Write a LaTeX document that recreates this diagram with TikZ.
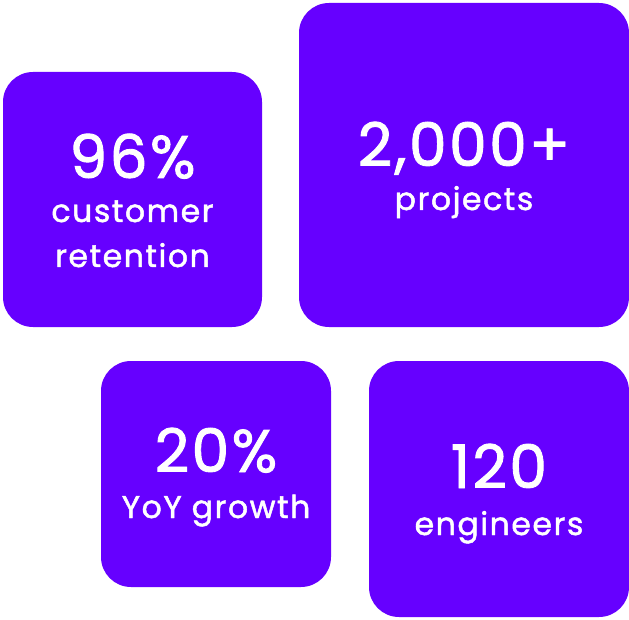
\documentclass[tikz,border=0pt]{standalone}
\usepackage{fontspec}
\setmainfont{Poppins}[FakeBold=1.5]
\definecolor{vio}{HTML}{6600FF}
\begin{document}
\begin{tikzpicture}[x=1pt,y=-1pt,
  card/.style={fill=vio, rounded corners=30pt},
  big/.style={anchor=base, text=white, inner sep=0pt, font=\fontsize{60}{60}\selectfont\addfontfeatures{LetterSpace=4}},
  small/.style={anchor=base, text=white, inner sep=0pt, font=\fontsize{31.5}{32}\selectfont\addfontfeatures{LetterSpace=5}}]
\useasboundingbox (0,0) rectangle (629,620);
\fill[card] (3,72) rectangle (262,327);
\fill[card] (299,3) rectangle (629,327);
\fill[card] (101,361) rectangle (331,587);
\fill[card] (369,361) rectangle (629,617);
\node[big] (a1) at (132.5,178) {96\%};
\node[small] (a2) at (132.5,222) {customer};
\node[small] (a3) at (132.5,267) {retention};
\node[big] (b1) at (464,166) {2,000+};
\node[small] (b2) at (464,210) {projects};
\node[big] (c1) at (216,472) {20\%};
\node[small] (c2) at (216,518) {YoY growth};
\node[big] (d1) at (499,488) {120};
\node[small] (d2) at (499,535) {engineers};
\end{tikzpicture}
\end{document}
